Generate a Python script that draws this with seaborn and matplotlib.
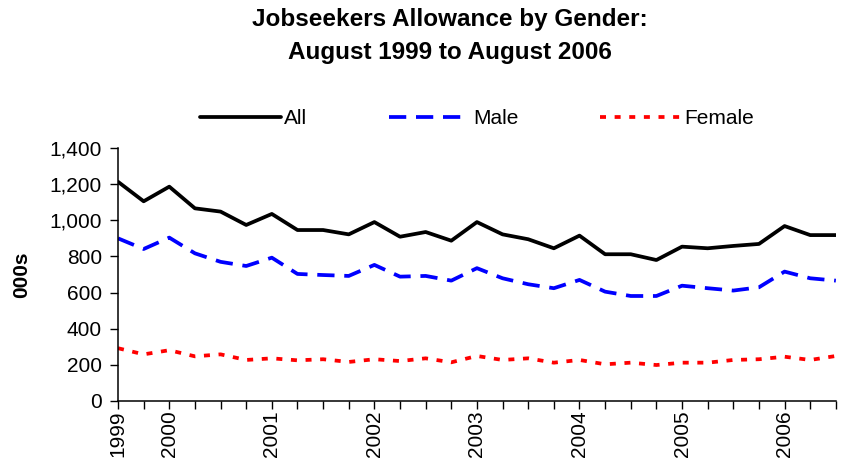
import numpy as np
import pandas as pd
import seaborn as sns
import matplotlib.pyplot as plt
from matplotlib.ticker import FuncFormatter

# Quarterly figures (000s), August 1999 to August 2006
quarters = list(range(29))
all_claims = [1213, 1105, 1186, 1066, 1048, 974, 1035, 946, 946, 922,
              990, 909, 935, 887, 990, 922, 895, 845, 915, 812,
              812, 780, 854, 845, 858, 869, 968, 918, 918]
male = [900, 841, 904, 817, 770, 747, 793, 703, 697, 692,
        753, 688, 692, 666, 735, 679, 646, 624, 670, 605,
        581, 581, 638, 624, 611, 629, 716, 679, 666]
female = [292, 258, 281, 247, 258, 227, 236, 225, 231, 216,
          231, 221, 236, 214, 249, 227, 236, 212, 227, 203,
          212, 199, 212, 212, 227, 231, 245, 227, 249]

# year labels sit on the February quarter
year_ticks = [0, 2, 6, 10, 14, 18, 22, 26]
year_labels = ['1999', '2000', '2001', '2002', '2003', '2004', '2005', '2006']

df = pd.DataFrame({'quarter': quarters, 'All': all_claims, 'Male': male, 'Female': female})

sns.set_theme(style='ticks')
plt.rcParams['font.family'] = ['Liberation Sans', 'DejaVu Sans']
plt.rcParams['text.color'] = 'black'

fig = plt.figure(figsize=(8.46, 4.68), dpi=100)
ax = fig.add_axes([0.1395, 0.1432, 0.8485, 0.5406])

sns.lineplot(data=df, x='quarter', y='All', ax=ax, color='black', lw=2.7, label='All')
sns.lineplot(data=df, x='quarter', y='Male', ax=ax, color='#0000ff', lw=2.7,
             label='Male').lines[-1].set_dashes([4.6, 2.6])
sns.lineplot(data=df, x='quarter', y='Female', ax=ax, color='#ff0000', lw=2.7,
             label='Female').lines[-1].set_dashes([1.6, 2.3])

ax.set_xlim(0, 28)
ax.set_ylim(0, 1400)
ax.set_yticks(range(0, 1401, 200))
ax.yaxis.set_major_formatter(FuncFormatter(lambda v, p: f'{int(v):,}'))

labels = [''] * len(quarters)
for t, l in zip(year_ticks, year_labels):
    labels[t] = l
ax.set_xticks(quarters)
ax.set_xticklabels(labels, rotation=90)

ax.tick_params(axis='both', direction='out', length=5.5, width=1, color='black',
               labelsize=15, labelcolor='black')
ax.tick_params(axis='x', pad=1.5)
ax.tick_params(axis='y', pad=6)

sns.despine(ax=ax)
for s in ['left', 'bottom']:
    ax.spines[s].set_color('black')
    ax.spines[s].set_linewidth(1.1)

ax.set_xlabel('')
ax.set_ylabel('000s', fontsize=15, fontweight='bold', labelpad=13, color='black')

ax.legend(loc='center', bbox_to_anchor=(0.5, 1.115), ncol=3, frameon=False,
          fontsize=15, handlelength=3.9, handletextpad=0.15, columnspacing=3.9)

fig.suptitle('Jobseekers Allowance by Gender:\nAugust 1999 to August 2006',
             x=0.532, y=0.982, fontsize=17.5, fontweight='bold', linespacing=1.55)

fig.savefig('out.png', dpi=100, facecolor='white')
